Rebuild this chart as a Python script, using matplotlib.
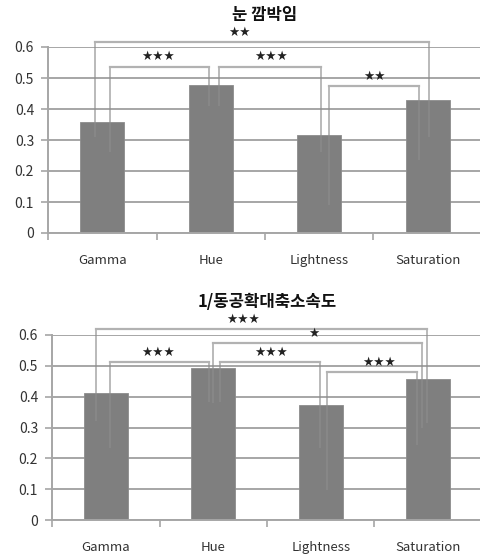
import numpy as np
import matplotlib.pyplot as plt

plt.rcParams['font.family'] = ['Noto Sans CJK KR', 'DejaVu Sans']

categories = ['Gamma', 'Hue', 'Lightness', 'Saturation']

# panel 1: blink
blink_title = '눈 깜박임'
blink_vals = [0.357, 0.478, 0.317, 0.43]
# (left cat, right cat, label, bracket height, leg bottoms, label x)
blink_pairs = [
    (0, 3, '**', 0.616, (0.31, 0.31), 1.26),
    (0, 1, '***', 0.537, (0.26, 0.41), 0.51),
    (1, 2, '***', 0.537, (0.41, 0.26), 1.555),
    (2, 3, '**', 0.474, (0.09, 0.235), 2.51),
]

# panel 2: 1 / pupil dilation-constriction speed
pupil_title = '1/동공확대축소속도'
pupil_vals = [0.413, 0.492, 0.372, 0.457]
pupil_pairs = [
    (0, 3, '***', 0.620, (0.32, 0.315), 1.28),
    (1, 3, '*', 0.574, (0.38, 0.30), 1.94),
    (0, 1, '***', 0.511, (0.234, 0.384), 0.49),
    (1, 2, '***', 0.511, (0.384, 0.234), 1.54),
    (2, 3, '***', 0.480, (0.097, 0.243), 2.54),
]

# horizontal offsets of bracket legs from bar centres
blink_offsets = [(-0.07, 0.01), (0.07, -0.02), (0.08, 0.02), (0.09, -0.08)]
pupil_offsets = [(-0.09, -0.01), (0.0, -0.06), (0.04, -0.04), (0.06, -0.01), (0.06, -0.1)]

BAR = '#7f7f7f'
GRID = '#a6a6a6'
LINE = '#b2b2b2'
TXT = '#333333'


def draw_panel(ax, title, vals, pairs, offsets, title_y):
    x = np.arange(len(categories))
    ax.bar(x, vals, width=0.41, color=BAR, edgecolor='#8c8c8c', linewidth=0.6, zorder=2)
    ax.set_xlim(-0.5, 3.5)
    ax.set_ylim(0, 0.6)
    ax.set_yticks(np.arange(0, 0.61, 0.1))
    ax.set_yticklabels(['0', '0.1', '0.2', '0.3', '0.4', '0.5', '0.6'])
    ax.yaxis.grid(True, color=GRID, linewidth=1.4, zorder=0)
    ax.set_axisbelow(True)
    for s in ['top', 'right']:
        ax.spines[s].set_visible(False)
    for s in ['left', 'bottom']:
        ax.spines[s].set_color(GRID)
        ax.spines[s].set_linewidth(1.4)
    ax.tick_params(axis='y', length=5, color=GRID, width=1.2, labelsize=10,
                   labelcolor=TXT, pad=5)
    ax.set_xticks(x)
    ax.set_xticklabels(categories)
    ax.set_xticks(np.arange(-0.5, 4.0, 1.0), minor=True)
    ax.tick_params(axis='x', which='major', length=0, labelsize=9.5,
                   labelcolor=TXT, pad=15)
    ax.tick_params(axis='x', which='minor', length=5, color=GRID, width=1.2)
    ax.text(0.5, title_y, title, transform=ax.transAxes, ha='center', va='center',
            fontsize=12, fontweight='bold', color='#111111')

    for (a, b, lab, h, bottoms, tx), (oa, ob) in zip(pairs, offsets):
        xa, xb = x[a] + oa, x[b] + ob
        # legs: faint where they pass over the bars
        for xl, yb in ((xa, bottoms[0]), (xb, bottoms[1])):
            ax.plot([xl, xl], [yb, h], color='#8e8e8e', alpha=0.66, lw=1.3,
                    zorder=3, clip_on=False, solid_capstyle='butt')
        ax.plot([xa, xb], [h, h], color=LINE, lw=1.6, zorder=3, clip_on=False)
        ax.text(tx, h + 0.01, lab.replace('*', '\u2605'), ha='center', va='bottom',
                fontsize=9, color='#222222', family=['DejaVu Sans'], zorder=4)


fig = plt.figure(figsize=(4.81, 5.58), dpi=100)
ax1 = fig.add_axes([48 / 481, 325 / 558, 434 / 481, 186 / 558])
ax2 = fig.add_axes([52 / 481, 38 / 558, 430 / 481, 185 / 558])

draw_panel(ax1, blink_title, blink_vals, blink_pairs, blink_offsets, 1.172)
draw_panel(ax2, pupil_title, pupil_vals, pupil_pairs, pupil_offsets, 1.178)

fig.savefig('out.png', dpi=100, facecolor='white')
